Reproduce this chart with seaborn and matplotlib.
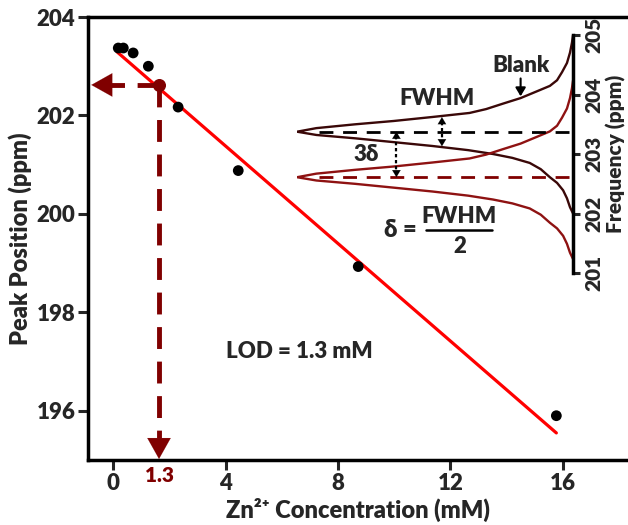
import numpy as np
import pandas as pd
import matplotlib
matplotlib.use('Agg')
import matplotlib.pyplot as plt
import seaborn as sns

# main data (plotted positions)
conc = [0.18, 0.36, 0.71, 1.25, 2.31, 4.45, 8.72, 15.77]
peak = [203.37, 203.37, 203.27, 203.00, 202.17, 200.88, 198.93, 195.90]
fit_x = [0.14, 15.77]
fit_y = [203.29, 195.55]
lod_x = 1.63
lod_y = 202.62
lod_label = '1.3'
x_ticks = [0, 4, 8, 12, 16]
y_ticks = [196, 198, 200, 202, 204]

# inset: peak profile (offset from centre in ppm, relative intensity)
prof_off = [1.625, 1.495, 1.33, 1.155, 1.0, 0.865, 0.77, 0.70, 0.565, 0.47,
            0.38, 0.315, 0.247, 0.18, 0.124, 0.06, 0.0, -0.055, -0.111,
            -0.18, -0.24, -0.31, -0.375, -0.44, -0.525, -0.63, -0.765,
            -0.86, -0.985, -1.12, -1.27, -1.375]
prof_int = [0.0, 0.004, 0.011, 0.022, 0.04, 0.058, 0.084, 0.12, 0.19, 0.255,
            0.315, 0.375, 0.51, 0.65, 0.79, 0.93, 1.0, 0.93, 0.79,
            0.64, 0.51, 0.38, 0.29, 0.22, 0.157, 0.117, 0.084,
            0.058, 0.036, 0.022, 0.011, 0.0]
centres = [203.375, 202.61]
curve_colors = ['#3a0808', '#8e1212']
freq_ticks = [201, 202, 203, 204, 205]

dark_red = '#800000'
W = 'heavy'

sns.set_theme(style='ticks')
plt.rcParams['font.family'] = ['Lato', 'DejaVu Sans']
plt.rcParams['font.weight'] = W

fig = plt.figure(figsize=(6.28, 5.25), dpi=100)
ax = fig.add_axes([0.140, 0.1238, 0.860, 0.8438])

df = pd.DataFrame({'conc': conc, 'peak': peak})
sns.lineplot(x=fit_x, y=fit_y, color='#ff0000', lw=2.3, ax=ax, zorder=2)
sns.scatterplot(data=df, x='conc', y='peak', color='black', s=60,
                edgecolor='none', ax=ax, zorder=3)

# LOD guide lines
ax.plot([lod_x, -0.3], [lod_y, lod_y], color=dark_red, lw=3.5,
        dashes=(4.5, 2.6), solid_capstyle='butt', zorder=2)
ax.plot([lod_x, lod_x], [lod_y, 195.45], color=dark_red, lw=3.5,
        dashes=(4.5, 2.6), solid_capstyle='butt', zorder=2)
ax.annotate('', xy=(-0.78, lod_y), xytext=(-0.1, lod_y),
            arrowprops=dict(arrowstyle='-|>,head_length=0.75,head_width=0.42',
                            color=dark_red, lw=0.1, mutation_scale=20,
                            shrinkA=0, shrinkB=0))
ax.annotate('', xy=(lod_x, 195.02), xytext=(lod_x, 195.45),
            arrowprops=dict(arrowstyle='-|>,head_length=0.75,head_width=0.42',
                            color=dark_red, lw=0.1, mutation_scale=20,
                            shrinkA=0, shrinkB=0))
ax.scatter([lod_x], [lod_y], color=dark_red, s=70, zorder=4)
ax.text(lod_x, 194.87, lod_label, color=dark_red, fontsize=15,
        fontweight=W, ha='center', va='top')
ax.text(6.61, 197.2, 'LOD = 1.3 mM', fontsize=16, fontweight=W,
        ha='center', va='center')

ax.set_xlim(-0.9, 18.32)
ax.set_ylim(195.0, 204.0)
ax.set_xticks(x_ticks)
ax.set_yticks(y_ticks)
ax.tick_params(axis='both', direction='out', length=7, width=2.2,
               labelsize=16, pad=2)
for lab in ax.get_xticklabels() + ax.get_yticklabels():
    lab.set_fontweight(W)
for side in ['left', 'bottom', 'top']:
    ax.spines[side].set_linewidth(2.5)
    ax.spines[side].set_color('black')
ax.spines['right'].set_visible(False)
ax.set_xlabel('Zn²⁺ Concentration (mM)', fontsize=17,
              fontweight=W, labelpad=3)
ax.set_ylabel('Peak Position (ppm)', fontsize=17, fontweight=W,
              labelpad=3)

# inset
ax_in = fig.add_axes([0.473, 0.48, 0.4395, 0.4533])
ax_in.patch.set_alpha(0)
for c, col in zip(centres, curve_colors):
    sns.lineplot(x=prof_int, y=[c + o for o in prof_off], sort=False,
                 estimator=None, color=col, lw=1.7, ax=ax_in)
ax_in.plot([0.92, 0], [centres[0]] * 2, color='black', lw=2,
           dashes=(5, 3.5))
ax_in.plot([0.92, 0], [centres[1]] * 2, color=dark_red, lw=2,
           dashes=(5, 3.5))

# FWHM and 3-delta double arrows
for (xa, y1, y2) in [(0.475, 203.62, 203.13), (0.64, 203.375, 202.61)]:
    ax_in.plot([xa, xa], [y1 - 0.08, y2 + 0.08], color='black', lw=1.6,
               dashes=(1.5, 1.2))
    ax_in.annotate('', xy=(xa, y1), xytext=(xa, y1 - 0.1),
                   arrowprops=dict(arrowstyle='-|>,head_length=0.5,head_width=0.3',
                                   color='black', lw=0.1, mutation_scale=10,
                                   shrinkA=0, shrinkB=0))
    ax_in.annotate('', xy=(xa, y2), xytext=(xa, y2 + 0.1),
                   arrowprops=dict(arrowstyle='-|>,head_length=0.5,head_width=0.3',
                                   color='black', lw=0.1, mutation_scale=10,
                                   shrinkA=0, shrinkB=0))

ax_in.annotate('', xy=(0.19, 203.97), xytext=(0.19, 204.27),
               arrowprops=dict(arrowstyle='-|>,head_length=0.5,head_width=0.3',
                               color='black', lw=1.5, mutation_scale=10,
                               shrinkA=0, shrinkB=0))
ax_in.text(0.19, 204.48, 'Blank', fontsize=16, fontweight=W,
           ha='center', va='center')
ax_in.text(0.493, 203.94, 'FWHM', fontsize=16, fontweight=W,
           ha='center', va='center')
ax_in.text(0.75, 202.99, '3δ', fontsize=16, fontweight=W,
           ha='center', va='center')
ax_in.text(0.625, 201.72, 'δ =', fontsize=17, fontweight=W,
           ha='center', va='center')
ax_in.text(0.412, 201.95, 'FWHM', fontsize=16, fontweight=W,
           ha='center', va='center')
ax_in.plot([0.533, 0.292], [201.73, 201.73], color='black', lw=1.8)
ax_in.text(0.412, 201.44, '2', fontsize=16, fontweight=W,
           ha='center', va='center')

ax_in.set_xlim(1, 0)
ax_in.set_ylim(201, 205)
ax_in.set_xticks([])
ax_in.set_yticks(freq_ticks)
ax_in.yaxis.tick_right()
ax_in.yaxis.set_label_position('right')
for side in ['left', 'bottom', 'top']:
    ax_in.spines[side].set_visible(False)
ax_in.spines['right'].set_linewidth(2.5)
ax_in.spines['right'].set_color('black')
ax_in.tick_params(axis='y', direction='out', length=5, width=2.2,
                  labelsize=15, pad=3, labelrotation=90)
for lab in ax_in.get_yticklabels():
    lab.set_fontweight(W)
    lab.set_va('center')
ax_in.set_ylabel('Frequency (ppm)', fontsize=15, fontweight=W,
                 rotation=90, labelpad=2)

fig.savefig('out.png', dpi=100)
